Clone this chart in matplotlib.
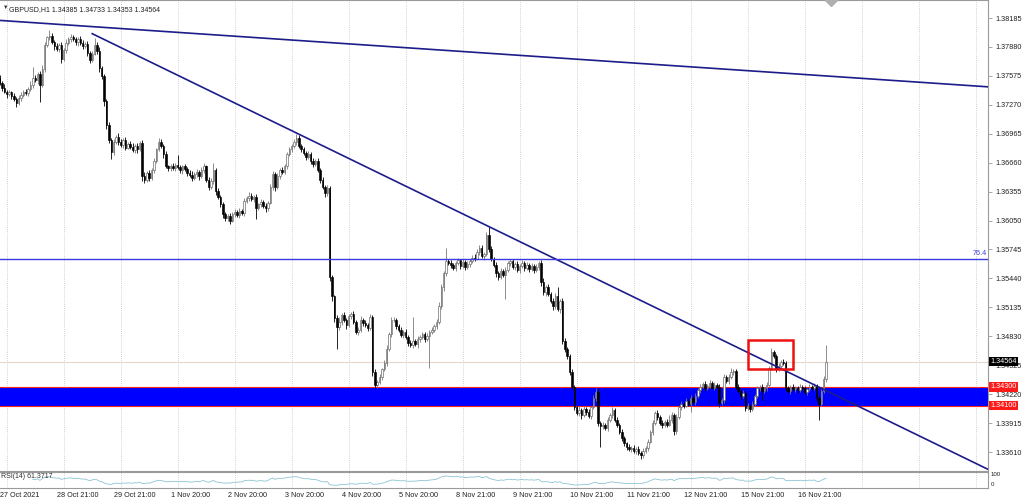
import numpy as np
import matplotlib.pyplot as plt
import matplotlib.transforms as mtransforms
from matplotlib.patches import Rectangle

plt.rcParams['font.family'] = ['Liberation Sans', 'DejaVu Sans']

# ---- data (GBPUSD H1) ----
PIP = 0.0001
first_open = 1.3755

closes = [
    1.3750, 1.3745, 1.3741, 1.3738, 1.3740, 1.3736, 1.3733, 1.3729, 1.3734, 1.3737, 1.3741, 1.3739,
    1.3744, 1.3748, 1.3755, 1.3753, 1.3760, 1.3748, 1.3765, 1.3790, 1.3798, 1.3800, 1.3793, 1.3789,
    1.3786, 1.3790, 1.3775, 1.3785, 1.3792, 1.3796, 1.3799, 1.3796, 1.3793, 1.3796, 1.3792, 1.3789,
    1.3791, 1.3782, 1.3774, 1.3781, 1.3790, 1.3784, 1.3766, 1.3757, 1.3731, 1.3706, 1.3690, 1.3677,
    1.3688, 1.3693, 1.3688, 1.3685, 1.3690, 1.3682, 1.3686, 1.3683, 1.3679, 1.3684, 1.3680, 1.3687,
    1.3652, 1.3648, 1.3655, 1.3650, 1.3658, 1.3668, 1.3680, 1.3688, 1.3684, 1.3675, 1.3662, 1.3660,
    1.3663, 1.3660, 1.3664, 1.3661, 1.3658, 1.3662, 1.3659, 1.3655, 1.3653, 1.3650, 1.3654, 1.3656,
    1.3652, 1.3658, 1.3662, 1.3648, 1.3640, 1.3647, 1.3658, 1.3636, 1.3630, 1.3622, 1.3612, 1.3608,
    1.3610, 1.3605, 1.3612, 1.3614, 1.3611, 1.3615, 1.3613, 1.3626, 1.3629, 1.3631, 1.3628, 1.3630,
    1.3618, 1.3622, 1.3625, 1.3620, 1.3618, 1.3624, 1.3640, 1.3654, 1.3640, 1.3652, 1.3658, 1.3656,
    1.3662, 1.3675, 1.3680, 1.3684, 1.3688, 1.3692, 1.3684, 1.3680, 1.3676, 1.3672, 1.3675, 1.3668,
    1.3665, 1.3668, 1.3658, 1.3648, 1.3640, 1.3634, 1.3639, 1.3545, 1.3525, 1.3502, 1.3493, 1.3498,
    1.3505, 1.3500, 1.3495, 1.3504, 1.3507, 1.3498, 1.3488, 1.3490, 1.3500, 1.3497, 1.3495, 1.3492,
    1.3503, 1.3445, 1.3432, 1.3435, 1.3440, 1.3448, 1.3455, 1.3470, 1.3485, 1.3500, 1.3500, 1.3494,
    1.3490, 1.3484, 1.3488, 1.3482, 1.3476, 1.3474, 1.3478, 1.3475, 1.3480, 1.3482, 1.3485, 1.3480,
    1.3483, 1.3488, 1.3490, 1.3494, 1.3498, 1.3515, 1.3535, 1.3550, 1.3562, 1.3560, 1.3558, 1.3555,
    1.3560, 1.3563, 1.3557, 1.3561, 1.3556, 1.3559, 1.3562, 1.3566, 1.3565, 1.3572, 1.3576, 1.3568,
    1.3570, 1.3590, 1.3575, 1.3565, 1.3558, 1.3550, 1.3545, 1.3552, 1.3548, 1.3553, 1.3560, 1.3562,
    1.3556, 1.3559, 1.3553, 1.3557, 1.3560, 1.3555, 1.3558, 1.3554, 1.3557, 1.3553, 1.3556, 1.3560,
    1.3540, 1.3530, 1.3535, 1.3528, 1.3520, 1.3515, 1.3525, 1.3512, 1.3520, 1.3478, 1.3470, 1.3462,
    1.3445, 1.3430, 1.3408, 1.3402, 1.3405, 1.3400, 1.3406, 1.3403, 1.3399, 1.3408, 1.3418, 1.3424,
    1.3392, 1.3388, 1.3390, 1.3386, 1.3395, 1.3400, 1.3405, 1.3395, 1.3390, 1.3382, 1.3376, 1.3370,
    1.3366, 1.3364, 1.3365, 1.3362, 1.3364, 1.3360, 1.3358, 1.3362, 1.3365, 1.3372, 1.3382, 1.3392,
    1.3402, 1.3398, 1.3392, 1.3389, 1.3393, 1.3390, 1.3395, 1.3400, 1.3383, 1.3398, 1.3408, 1.3412,
    1.3410, 1.3415, 1.3412, 1.3418, 1.3414, 1.3420, 1.3426, 1.3430, 1.3433, 1.3428, 1.3431, 1.3434,
    1.3429, 1.3432, 1.3430, 1.3413, 1.3416, 1.3440, 1.3436, 1.3440, 1.3445, 1.3446, 1.3430, 1.3425,
    1.3420, 1.3423, 1.3407, 1.3410, 1.3406, 1.3412, 1.3420, 1.3428, 1.3430, 1.3425, 1.3428, 1.3432,
    1.3450, 1.3466, 1.3462, 1.3448, 1.3452, 1.3456, 1.3455, 1.3428, 1.3425, 1.3430, 1.3427, 1.3429,
    1.3426, 1.3430, 1.3428, 1.3424, 1.3427, 1.3430, 1.3428, 1.3431, 1.3418, 1.3412, 1.3425, 1.34385,
    1.34564,
]

# wick lengths in pips above / below the body
up_wick = [
    3, 2, 4, 2, 3, 2, 3, 2, 3, 4, 2, 3, 2, 4, 12, 3, 2, 3, 4, 3, 2, 6, 3, 2,
    3, 2, 3, 2, 4, 2, 3, 2, 3, 2, 4, 3, 2, 3, 2, 3, 7, 3, 4, 2, 3, 2, 3, 2,
    3, 2, 4, 3, 2, 3, 2, 3, 4, 2, 3, 2, 3, 4, 2, 3, 2, 3, 2, 4, 3, 2, 3, 2,
    2, 3, 2, 10, 3, 2, 3, 2, 3, 4, 2, 3, 2, 3, 4, 2, 3, 3, 8, 2, 3, 2, 3, 2,
    2, 3, 2, 3, 2, 3, 2, 3, 2, 4, 3, 2, 3, 2, 3, 2, 3, 2, 4, 3, 2, 3, 2, 3,
    3, 2, 3, 2, 3, 4, 3, 2, 3, 2, 3, 2, 3, 2, 3, 2, 3, 2, 3, 2, 3, 2, 3, 5,
    3, 4, 2, 3, 2, 3, 2, 3, 4, 2, 3, 2, 4, 2, 3, 2, 3, 2, 3, 4, 2, 3, 3, 2,
    2, 3, 2, 3, 2, 3, 25, 2, 3, 2, 3, 2, 3, 2, 3, 2, 3, 4, 3, 2, 14, 3, 3, 2,
    2, 3, 2, 3, 2, 3, 2, 3, 4, 3, 3, 3, 2, 3, 8, 3, 2, 3, 2, 3, 2, 3, 2, 3,
    3, 2, 3, 2, 3, 2, 3, 2, 3, 2, 3, 2, 3, 4, 2, 3, 2, 3, 4, 10, 2, 3, 3, 2,
    2, 3, 2, 3, 4, 2, 3, 2, 3, 2, 3, 4, 3, 2, 3, 2, 3, 2, 3, 2, 3, 2, 3, 2,
    2, 3, 2, 3, 2, 3, 2, 3, 2, 3, 2, 3, 2, 3, 2, 3, 2, 3, 5, 3, 2, 3, 2, 3,
    2, 3, 2, 3, 2, 3, 2, 3, 2, 3, 2, 3, 2, 3, 2, 3, 2, 3, 2, 3, 5, 3, 2, 3,
    2, 3, 2, 3, 2, 3, 2, 3, 2, 3, 2, 3, 2, 5, 3, 2, 3, 2, 3, 2, 3, 2, 3, 2,
    2, 3, 2, 3, 2, 3, 2, 3, 2, 3, 2, 3, 16.9,
]
down_wick = [
    2, 3, 2, 4, 2, 3, 2, 4, 2, 3, 2, 2, 3, 2, 3, 2, 4, 18, 2, 3, 2, 3, 2, 4,
    2, 3, 4, 2, 3, 2, 3, 2, 3, 4, 2, 3, 2, 4, 3, 2, 2, 3, 4, 3, 5, 4, 3, 7,
    3, 2, 3, 2, 4, 3, 2, 3, 2, 3, 4, 2, 5, 3, 2, 3, 2, 3, 2, 2, 3, 4, 2, 3,
    3, 2, 3, 2, 3, 4, 2, 3, 2, 3, 2, 3, 4, 2, 3, 2, 3, 2, 3, 4, 2, 3, 4, 3,
    3, 4, 2, 3, 2, 3, 2, 3, 2, 3, 2, 3, 11, 2, 3, 2, 4, 3, 2, 3, 4, 2, 3, 2,
    2, 3, 2, 3, 2, 3, 2, 3, 2, 3, 2, 3, 4, 3, 2, 3, 2, 4, 3, 4, 5, 4, 23, 3,
    3, 2, 4, 2, 3, 2, 3, 4, 2, 3, 2, 3, 2, 4, 3, 3, 2, 3, 2, 3, 2, 3, 2, 3,
    3, 2, 3, 2, 3, 2, 3, 2, 4, 3, 2, 3, 2, 33, 3, 2, 3, 2, 3, 4, 3, 2, 3, 2,
    3, 2, 3, 2, 3, 2, 3, 2, 3, 2, 3, 2, 5, 2, 3, 3, 2, 4, 3, 2, 3, 26, 2, 3,
    2, 3, 2, 3, 2, 3, 2, 3, 2, 3, 2, 3, 4, 3, 4, 3, 2, 4, 3, 2, 4, 3, 4, 3,
    3, 4, 3, 2, 3, 4, 2, 3, 2, 3, 2, 3, 4, 22, 3, 2, 3, 2, 3, 2, 3, 2, 3, 3,
    3, 2, 3, 2, 3, 2, 4, 3, 2, 3, 2, 3, 2, 3, 2, 3, 2, 3, 2, 3, 4, 3, 2, 3,
    3, 2, 3, 9, 2, 3, 2, 3, 2, 3, 2, 3, 2, 3, 2, 5, 2, 3, 2, 3, 2, 3, 3, 2,
    3, 2, 3, 2, 3, 2, 3, 2, 3, 9, 2, 3, 2, 3, 2, 3, 2, 3, 2, 3, 2, 3, 2, 3,
    3, 2, 3, 2, 3, 2, 3, 2, 3, 17, 3, 2, 3.2,
]

time_labels = ["27 Oct 2021", "28 Oct 21:00", "29 Oct 21:00", "1 Nov 20:00", "2 Nov 20:00",
               "3 Nov 20:00", "4 Nov 20:00", "5 Nov 20:00", "8 Nov 21:00", "9 Nov 21:00",
               "10 Nov 21:00", "11 Nov 21:00", "12 Nov 21:00", "15 Nov 21:00", "16 Nov 21:00"]
price_ticks = [1.33610, 1.33915, 1.34220, 1.34525, 1.34830, 1.35135, 1.35440, 1.35745,
               1.36050, 1.36355, 1.36660, 1.36965, 1.37270, 1.37575, 1.37880, 1.38185]

# drawn objects (bar index, price)
trend_long = [(0, 1.3816), (416, 1.3746)]
trend_down = [(39, 1.3802), (416, 1.3343)]
fibo_764 = 1.35645
zone_low, zone_high = 1.34100, 1.34300
box_t = (315, 334)
box_p = (1.3449, 1.3479)
last_price = 1.34564
rsi_value_text = "61.3717"

# ---- derived series ----
closes = np.array(closes)
opens = np.concatenate([[first_open], closes[:-1]])
highs = np.maximum(opens, closes) + np.array(up_wick) * PIP
lows = np.minimum(opens, closes) - np.array(down_wick) * PIP
idx = np.arange(len(closes))


def rsi(c, n=14):
    d = np.diff(c)
    g = np.where(d > 0, d, 0.0)
    l = np.where(d < 0, -d, 0.0)
    out = np.full(len(c), np.nan)
    ag, al = g[:n].mean(), l[:n].mean()
    for i in range(n, len(c)):
        if i > n:
            ag = (ag * (n - 1) + g[i - 1]) / n
            al = (al * (n - 1) + l[i - 1]) / n
        out[i] = 100 - 100 / (1 + ag / al) if al > 0 else 100
    return out


rsi_vals = rsi(closes)

# ---- figure ----
W, H = 1024, 501
fig = plt.figure(figsize=(W / 100, H / 100), dpi=100)
fig.patch.set_facecolor('white')
ax = fig.add_axes([0, 30 / H, 988 / W, 471 / H])
ax_r = fig.add_axes([0, 13 / H, 988 / W, 16 / H])

x_lo, x_hi = 0.17, 416.2
ax.set_xlim(x_lo, x_hi)
ax.set_ylim(1.33410, 1.38375)
ax_r.set_xlim(x_lo, x_hi)
ax_r.set_ylim(-5, 105)

for a in (ax, ax_r):
    for s in a.spines.values():
        s.set_color('#9a9a9a')
        s.set_linewidth(0.8)
    a.spines['left'].set_visible(False)
    a.set_xticks([])

grid_bars = np.arange(3, x_hi, 24)
for a in (ax, ax_r):
    for g in grid_bars:
        a.axvline(g, color='#c4c4c4', lw=0.6, ls=(0, (1, 1.5)), zorder=0.5)

# support zone
ax.axhspan(zone_low, zone_high, color='#0000ff', zorder=1, lw=0)
ax.axhline(zone_high, color='#ff2020', lw=0.8, zorder=1.1)
ax.axhline(zone_low, color='#ff2020', lw=0.8, zorder=1.1)
ax.axhline(last_price, color='#e6d6cc', lw=0.8, zorder=1)

# candles
up = closes >= opens
dn = ~up
body_lo = np.minimum(opens, closes)
body_h = np.maximum(np.abs(closes - opens), 0.3 * PIP)
ax.vlines(idx[up], lows[up], highs[up], color='#7a7a7a', lw=0.6, zorder=3)
ax.vlines(idx[dn], lows[dn], highs[dn], color='black', lw=0.6, zorder=3)
ax.bar(idx[up], body_h[up], bottom=body_lo[up], width=0.6, color='white',
       edgecolor='#5e5e5e', linewidth=0.45, zorder=4)
ax.bar(idx[dn], body_h[dn], bottom=body_lo[dn], width=0.6, color='black',
       edgecolor='black', linewidth=0.45, zorder=4)

# trend lines and levels
ax.plot(*zip(*trend_long), color='#1c1c8a', lw=1.2, zorder=5)
ax.plot(*zip(*trend_down), color='#1c1c8a', lw=1.2, zorder=5)
ax.axhline(fibo_764, color='#3a3ae0', lw=1.0, zorder=5)
ax.text(x_hi - 0.5, fibo_764 + 2 * PIP, "76.4", color='#3a3ae0', fontsize=5.2,
        ha='right', va='bottom', zorder=6)
ax.add_patch(Rectangle((box_t[0], box_p[0]), box_t[1] - box_t[0], box_p[1] - box_p[0],
                       fill=False, ec='#ee1111', lw=1.8, zorder=6))

# shift marker at the top
ax.plot([350], [1.0], marker='D', ms=6, color='#b0b0b0', transform=mtransforms.blended_transform_factory(
    ax.transData, ax.transAxes), clip_on=True, zorder=6)

# title
ax.text(3 / 2.375, 0.99, "\u25BC", transform=mtransforms.blended_transform_factory(ax.transData, ax.transAxes),
        fontsize=4, va='top', ha='left', color='#303030')
ax.text(0.0095, 0.988, "GBPUSD,H1 1.34385 1.34733 1.34353 1.34564", transform=ax.transAxes,
        fontsize=5.0, va='top', ha='left', color='#202020')

# price axis
ax.yaxis.tick_right()
ax.set_yticks(price_ticks)
ax.set_yticklabels([f"{p:.5f}" for p in price_ticks])
ax.tick_params(axis='y', labelsize=5.2, length=3, width=0.6, pad=2, colors='#9a9a9a',
               labelcolor='#202020')
trans_r = mtransforms.blended_transform_factory(ax.transAxes, ax.transData)
ax.text(1.002, last_price, f"{last_price:.5f}", transform=trans_r, fontsize=5.2, color='white',
        va='center', ha='left', zorder=10, clip_on=False,
        bbox=dict(boxstyle='square,pad=0.2', fc='black', ec='none'))
for lvl in (zone_high, zone_low):
    ax.text(1.002, lvl, f"{lvl:.5f}", transform=trans_r, fontsize=5.2, color='white',
            va='center', ha='left', zorder=10, clip_on=False,
            bbox=dict(boxstyle='square,pad=0.2', fc='#ff1a1a', ec='none'))

# RSI panel
ax_r.plot(idx, rsi_vals, color='#8cc4d4', lw=0.6)
ax_r.set_yticks([])
ax_r.text(0.001, 0.93, f"RSI(14) {rsi_value_text}", transform=ax_r.transAxes, fontsize=5,
          va='top', ha='left', color='#303030')
ax_r.text(1.003, 0.82, "100", transform=ax_r.transAxes, fontsize=4.4, va='center', ha='left',
          color='#202020', clip_on=False)
ax_r.text(1.003, 0.22, "0", transform=ax_r.transAxes, fontsize=4.4, va='center', ha='left',
          color='#202020', clip_on=False)

# time axis labels
trans_b = mtransforms.blended_transform_factory(ax_r.transData, ax_r.transAxes)
for g, lab in zip(grid_bars, time_labels):
    ax_r.text(g - 7 / 2.375, -0.45, lab, transform=trans_b, fontsize=5.2, va='center',
              ha='left', color='#202020', clip_on=False)

fig.savefig('out.png', dpi=100, facecolor='white')
